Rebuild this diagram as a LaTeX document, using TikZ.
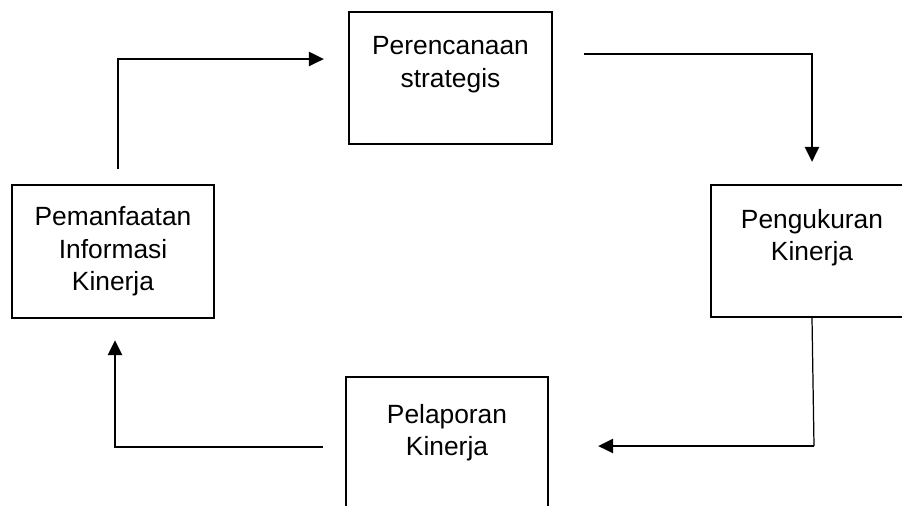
\documentclass[tikz,border=0pt]{standalone}
\usepackage{fontspec}
\setmainfont{Liberation Sans}
\usetikzlibrary{arrows.meta}
\usetikzlibrary{calc}

\tikzset{
  stage/.style={draw, line width=1.3pt, align=center, inner sep=0pt,
    font=\fontsize{15}{18.5}\selectfont},
  flow/.style={line width=1.3pt, -{Triangle[length=8.5pt,width=8pt]}},
}

\begin{document}
\begin{tikzpicture}[x=0.02cm, y=-0.02cm]
    % picture frame
    \useasboundingbox (0,0) rectangle (902,505);
    \clip (0,0) rectangle (902,505);

    % stages of the cycle
    \node[stage, minimum width=4.06cm, minimum height=2.64cm] (plan) at (450.5,78) {Perencanaan\\strategis\\\mbox{}};
    \node[stage, minimum width=4.04cm, minimum height=2.64cm] (measure) at (812,251) {Pengukuran\\Kinerja\\\mbox{}};
    \node[stage, minimum width=4.04cm, minimum height=2.76cm] (report) at (447,446) {Pelaporan\\Kinerja\\\mbox{}};
    \node[stage, minimum width=4.04cm, minimum height=2.66cm] (use) at (113,251.5) {Pemanfaatan\\Informasi\\Kinerja};

    % connectors
    \draw[flow] ($(use.north)+(5,-15)$) |- ($(plan.west)+(-24,-19)$);
    \draw[flow] ($(plan.east)+(31,-24)$) -| ($(measure.north)+(0,-22)$);
    \coordinate (turn) at ($(measure.south |- report.east)+(2,0)$);
    \draw[line width=0.7pt] (measure.south) -- (turn);
    \draw[flow] (turn) -- ($(report.east)+(49,0)$);
    \draw[flow] ($(report.west)+(-22,1)$) -| ($(use.south)+(2,21)$);
\end{tikzpicture}
\end{document}
